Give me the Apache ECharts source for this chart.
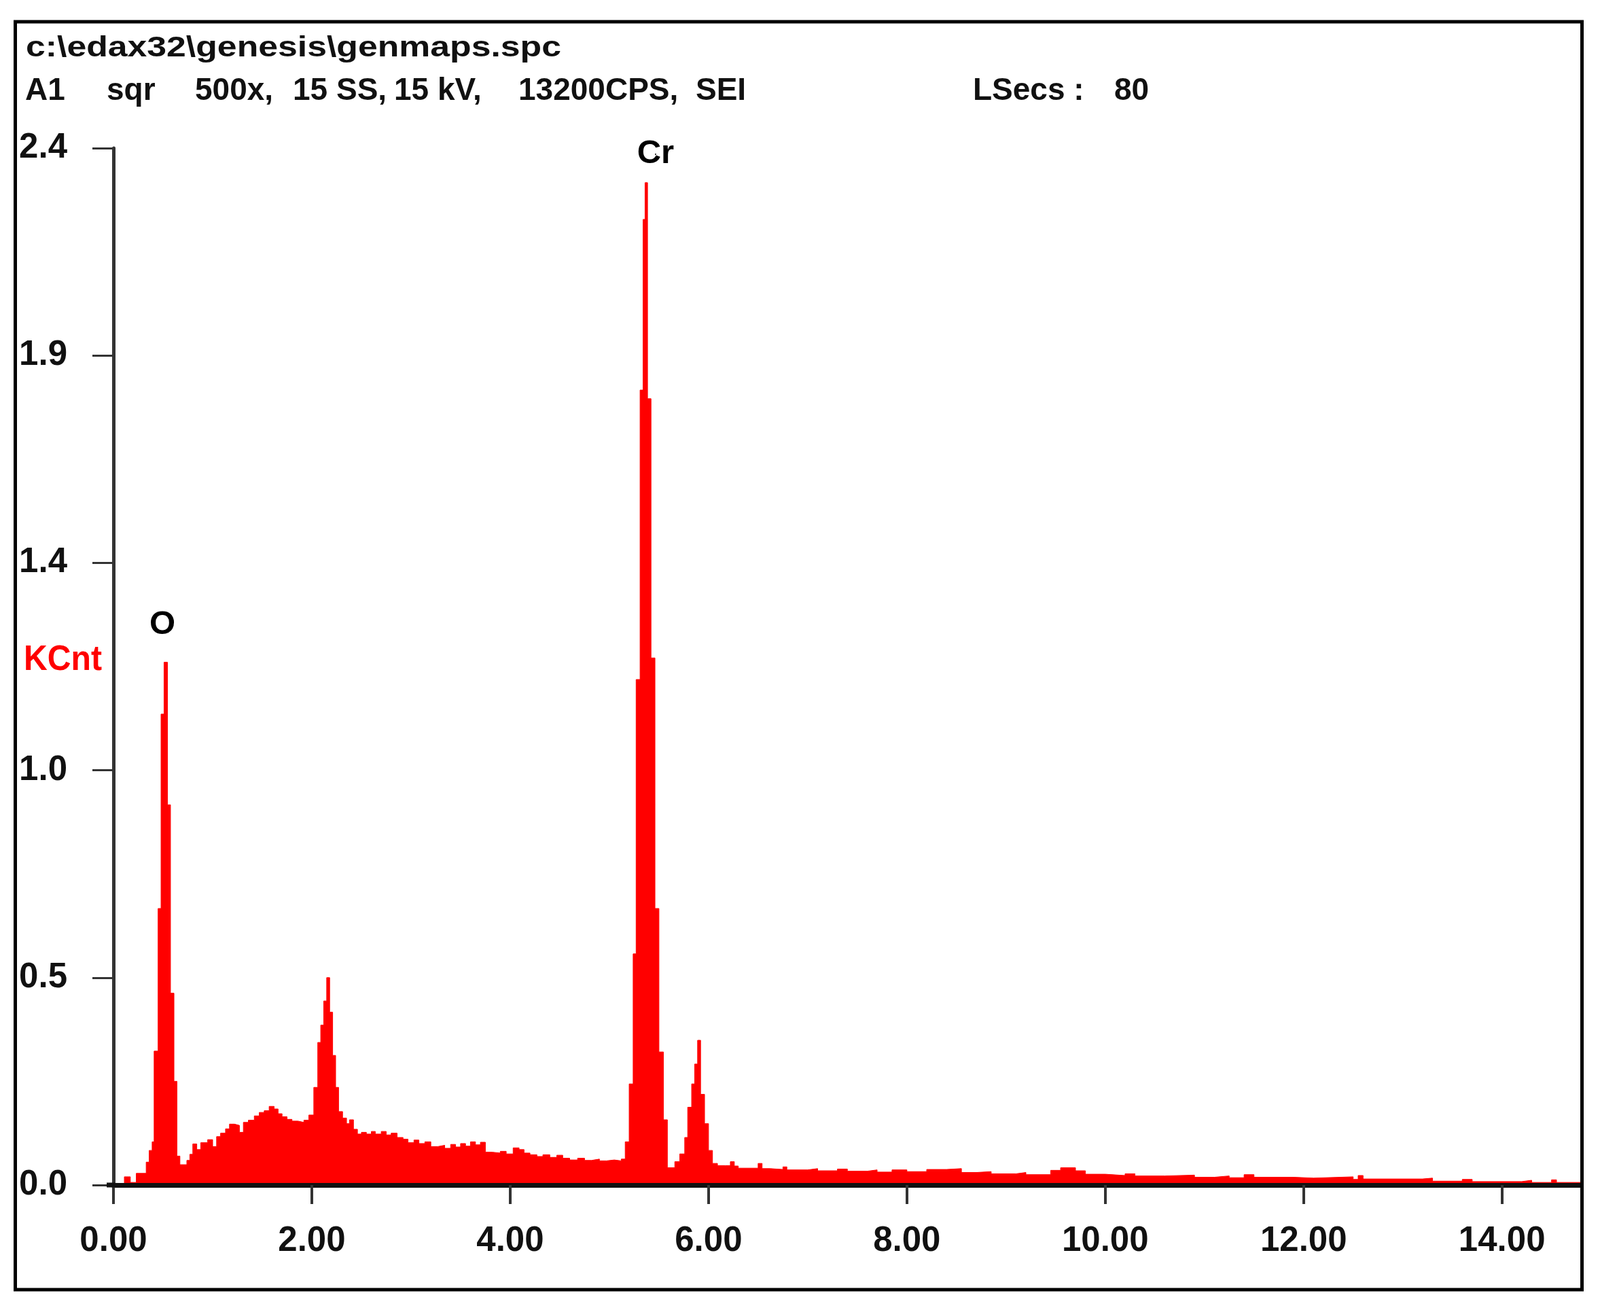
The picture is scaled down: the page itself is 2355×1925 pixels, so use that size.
<!DOCTYPE html>
<html>
<head>
<meta charset="utf-8">
<script src="https://cdn.jsdelivr.net/npm/echarts@6/dist/echarts.min.js"></script>
<style>
html,body{margin:0;padding:0;background:#fff;}
#chart{width:2355px;height:1925px;}
</style>
</head>
<body>
<div id="chart"></div>
<script>
// ---- DATA ----
// Start energy (keV) of each spectrum step, and its height (KCnt)
const energyKeV = [
  0.00,0.11,0.17,0.23,0.33,0.36,0.39,0.41,0.45,0.48,
  0.51,0.545,0.575,0.61,0.64,0.67,0.74,0.77,0.80,0.84,
  0.88,0.95,1.00,1.04,1.08,1.13,1.17,1.22,1.27,1.31,
  1.36,1.42,1.47,1.52,1.57,1.62,1.66,1.70,1.75,1.80,
  1.86,1.92,1.97,2.02,2.06,2.09,2.12,2.15,2.18,2.21,
  2.24,2.27,2.31,2.35,2.38,2.42,2.46,2.50,2.55,2.60,
  2.64,2.70,2.75,2.80,2.86,2.92,2.97,3.03,3.08,3.14,
  3.20,3.27,3.34,3.40,3.45,3.50,3.55,3.60,3.65,3.70,
  3.75,3.82,3.90,3.96,4.03,4.09,4.14,4.20,4.27,4.33,
  4.40,4.47,4.53,4.60,4.68,4.75,4.82,4.90,4.97,5.05,
  5.12,5.16,5.20,5.24,5.27,5.31,5.34,5.36,5.385,5.42,
  5.46,5.50,5.545,5.585,5.66,5.71,5.76,5.79,5.83,5.86,
  5.89,5.92,5.96,6.00,6.04,6.09,6.17,6.22,6.26,6.30,
  6.50,6.54,6.62,6.75,6.79,7.00,7.10,7.30,7.40,7.60,
  7.70,7.85,8.00,8.20,8.40,8.55,8.70,8.85,9.10,9.20,
  9.45,9.55,9.70,9.80,10.00,10.20,10.30,10.60,10.90,11.10,
  11.25,11.40,11.50,11.90,12.10,12.50,12.55,12.60,13.20,13.30,
  13.60,13.70,14.20,14.30,14.50,14.55,14.79
];
const kcnt = [
  0,0.019,0.006,0.027,0.053,0.08,0.10,0.31,0.64,1.09,
  1.21,0.88,0.444,0.24,0.067,0.047,0.057,0.071,0.095,0.082,
  0.098,0.105,0.089,0.112,0.12,0.13,0.141,0.138,0.122,0.145,
  0.15,0.16,0.168,0.172,0.182,0.176,0.165,0.158,0.152,0.148,
  0.145,0.15,0.162,0.226,0.33,0.37,0.426,0.48,0.40,0.30,
  0.226,0.17,0.155,0.142,0.151,0.129,0.118,0.122,0.118,0.124,
  0.118,0.124,0.116,0.12,0.11,0.106,0.098,0.104,0.096,0.10,
  0.089,0.092,0.085,0.094,0.088,0.096,0.09,0.10,0.093,0.099,
  0.076,0.074,0.078,0.072,0.086,0.082,0.074,0.07,0.066,0.07,
  0.064,0.069,0.062,0.058,0.062,0.057,0.06,0.056,0.058,0.056,
  0.06,0.10,0.234,0.535,1.17,1.84,2.235,2.32,1.82,1.22,
  0.64,0.308,0.151,0.04,0.054,0.072,0.11,0.18,0.234,0.28,
  0.335,0.21,0.142,0.08,0.05,0.045,0.045,0.054,0.044,0.039,
  0.05,0.038,0.036,0.042,0.035,0.038,0.033,0.037,0.032,0.035,
  0.03,0.035,0.031,0.036,0.038,0.029,0.031,0.026,0.029,0.024,
  0.034,0.04,0.033,0.025,0.022,0.026,0.021,0.023,0.018,0.021,
  0.017,0.024,0.018,0.016,0.019,0.013,0.022,0.014,0.016,0.009,
  0.013,0.008,0.011,0.006,0.012,0.006,0.006
];
// Element labels: name, energy (keV), height (KCnt) of the label centre
const peakNames = ['O', 'Cr'];
const peakLabelE = [0.493, 5.466];
const peakLabelK = [1.296, 2.386];

// Axis settings (values)
const xMin = 0, xMax = 14.79, xStep = 2;
const yMin = 0, yMax = 2.4, yStep = 0.48;

// Texts
const headerLine1 = 'c:\\edax32\\genesis\\genmaps.spc';
const headerLine2 = ['A1', 'sqr', '500x,', '15 SS,', '15 kV,', '13200CPS,', 'SEI'];
const liveTimeText = ['LSecs :', '80'];
const yUnitText = 'KCnt';

// ---- LAYOUT / STYLE ----
const FONT = '"Liberation Sans", Arial, Helvetica, sans-serif';
const line2X = [37, 157, 287, 431, 580, 763, 1024];
const liveX = [1432, 1640];

function textWidth(t, size) {
  const c = document.createElement('canvas').getContext('2d');
  c.font = 'bold ' + size + 'px ' + FONT;
  return c.measureText(t).width;
}
function txt(text, x, y, size, color, sx, sy) {
  return {
    type: 'text', x: x, y: y, scaleX: sx || 1, scaleY: sy || 1, z: 50,
    style: {
      text: text, x: 0, y: 0,
      font: 'bold ' + size + 'px ' + FONT,
      fill: color,
      align: 'left', verticalAlign: 'middle',
      textAlign: 'left', textVerticalAlign: 'middle'
    }
  };
}

const graphics = [];
graphics.push({
  type: 'rect', z: 100,
  shape: { x: 22.5, y: 32, width: 2306, height: 1866 },
  style: { fill: 'none', stroke: '#000', lineWidth: 5 }
});
graphics.push(txt(headerLine1, 38, 71, 46, '#111', 788 / textWidth(headerLine1, 46), 0.92));
headerLine2.forEach((t, i) => graphics.push(txt(t, line2X[i], 134.5, 46, '#111')));
liveTimeText.forEach((t, i) => graphics.push(txt(t, liveX[i], 134.5, 46, '#111')));
graphics.push(txt(yUnitText, 35, 972, 52, '#ff0000', 115 / textWidth(yUnitText, 52), 1));
// short piece of x axis line left of x=0, up to the y axis
graphics.push({
  type: 'rect', z: 40,
  shape: { x: 157, y: 1740.5, width: 12, height: 7 },
  style: { fill: '#111' }
});

const chart = echarts.init(document.getElementById('chart'), null, { renderer: 'canvas' });
chart.setOption({
  animation: false,
  backgroundColor: '#ffffff',
  grid: { left: 167, right: 29, top: 218, bottom: 181, containLabel: false, outerBoundsMode: 'none' },
  xAxis: {
    type: 'value', min: xMin, max: xMax, interval: xStep, z: 5,
    axisLine: { show: true, onZero: false, lineStyle: { color: '#111', width: 7 } },
    axisTick: { show: true, length: 28, lineStyle: { color: '#333', width: 4 } },
    axisLabel: {
      formatter: v => (Math.abs(v % xStep) < 1e-6 ? v.toFixed(2) : ''),
      fontSize: 51, fontWeight: 'bold', fontFamily: FONT, color: '#111', margin: 57,
      showMaxLabel: false
    },
    splitLine: { show: false }
  },
  yAxis: {
    type: 'value', min: yMin, max: yMax, interval: yStep, offset: 8, z: 5,
    axisLine: { show: true, lineStyle: { color: '#333', width: 5 } },
    axisTick: { show: true, length: 31, lineStyle: { color: '#333', width: 3 } },
    axisLabel: {
      formatter: v => v.toFixed(1),
      fontSize: 51, fontWeight: 'bold', fontFamily: FONT, color: '#111', margin: 60
    },
    splitLine: { show: false }
  },
  series: [
    {
      type: 'line', step: 'end', symbol: 'none', showSymbol: false,
      data: energyKeV.map((e, i) => [e, kcnt[i]]),
      lineStyle: { color: '#ff0000', width: 1 },
      itemStyle: { color: '#ff0000' },
      areaStyle: { color: '#ff0000', opacity: 1 },
      z: 2
    },
    {
      type: 'scatter', symbolSize: 0,
      data: peakNames.map((n, i) => ({ name: n, value: [peakLabelE[i], peakLabelK[i]] })),
      itemStyle: { color: '#000', opacity: 1 },
      label: {
        show: true, position: 'inside', formatter: '{b}', opacity: 1,
        fontSize: 49, fontWeight: 'bold', fontFamily: FONT, color: '#000'
      },
      z: 3
    }
  ],
  graphic: { elements: graphics }
});
</script>
</body>
</html>
